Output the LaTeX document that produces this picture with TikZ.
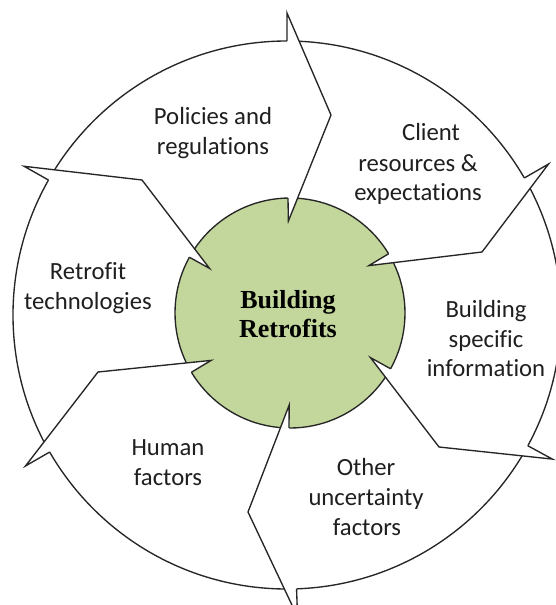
\documentclass[tikz,border=0pt]{standalone}
\usepackage{fontspec}
\setmainfont{Carlito}[Ligatures=CommonOff]
\newfontfamily\centerfont{Liberation Serif}
\usetikzlibrary{calc}
\definecolor{ringgreen}{RGB}{195,214,155}
\begin{document}
\begin{tikzpicture}[x=1pt,y=-1pt,
  ln/.style={line width=1.35pt, draw=black!85, line join=miter},
  lbl/.style={anchor=base, inner sep=0pt, font=\fontsize{24.7}{30}\selectfont, text=black!88},
  ctr/.style={anchor=base, inner sep=0pt, font=\centerfont\bfseries\fontsize{26}{29}\selectfont, text=black}]
\useasboundingbox (0,0) rectangle (556,605);
\clip (0,0) rectangle (556,605);
\fill[white] (0,0) rectangle (556,605);
\coordinate (O) at (287,315);
\coordinate (I) at (290,313);
\draw[ln] (O) circle[radius=274pt];
\draw[ln, fill=ringgreen] (I) circle[radius=115pt];
\foreach \i/\ao/\ai/\kx/\ky in {1/-90/-91/331/115, 2/-30/-31/482/252, 3/28.5/29/439/447, 4/88/90.5/248/512, 5/150/149/98/372, 6/-150.5/-151/142/180}{
  \coordinate (ob\i) at ($(O)+(\ao:274)$);
  \coordinate (ot\i) at ($(O)+(\ao:302)$);
  \coordinate (k\i) at (\kx,\ky);
  \coordinate (it\i) at ($(I)+(\ai:92)$);
  \coordinate (ib\i) at ($(I)+(\ai:115)$);
  \fill[white] (ob\i) -- (ot\i) -- (k\i) -- (it\i) -- (ib\i) -- cycle;
  \draw[ln] (ob\i) -- (ot\i) -- (k\i) -- (it\i) -- (ib\i);
}
\node[lbl] (pol1) at (213,124) {Policies and};
\node[lbl] (pol2) at (213,154) {regulations};
\node[lbl] (cli1) at (431,140) {Client};
\node[lbl] (cli2) at (418,171) {resources \&};
\node[lbl] (cli3) at (418,200) {expectations};
\node[lbl] (ret1) at (88,279) {Retrofit};
\node[lbl] (ret2) at (88,309) {technologies};
\node[lbl] (bsi1) at (486,317) {Building};
\node[lbl] (bsi2) at (486,347) {specific};
\node[lbl] (bsi3) at (486,376) {information};
\node[lbl] (hum1) at (168,455) {Human};
\node[lbl] (hum2) at (168,485) {factors};
\node[lbl] (oth1) at (366,475) {Other};
\node[lbl] (oth2) at (366,505) {uncertainty};
\node[lbl] (oth3) at (367,535) {factors};
\node[ctr] (br1) at (288,308) {Building};
\node[ctr] (br2) at (288,337) {Retrofits};
\end{tikzpicture}
\end{document}
